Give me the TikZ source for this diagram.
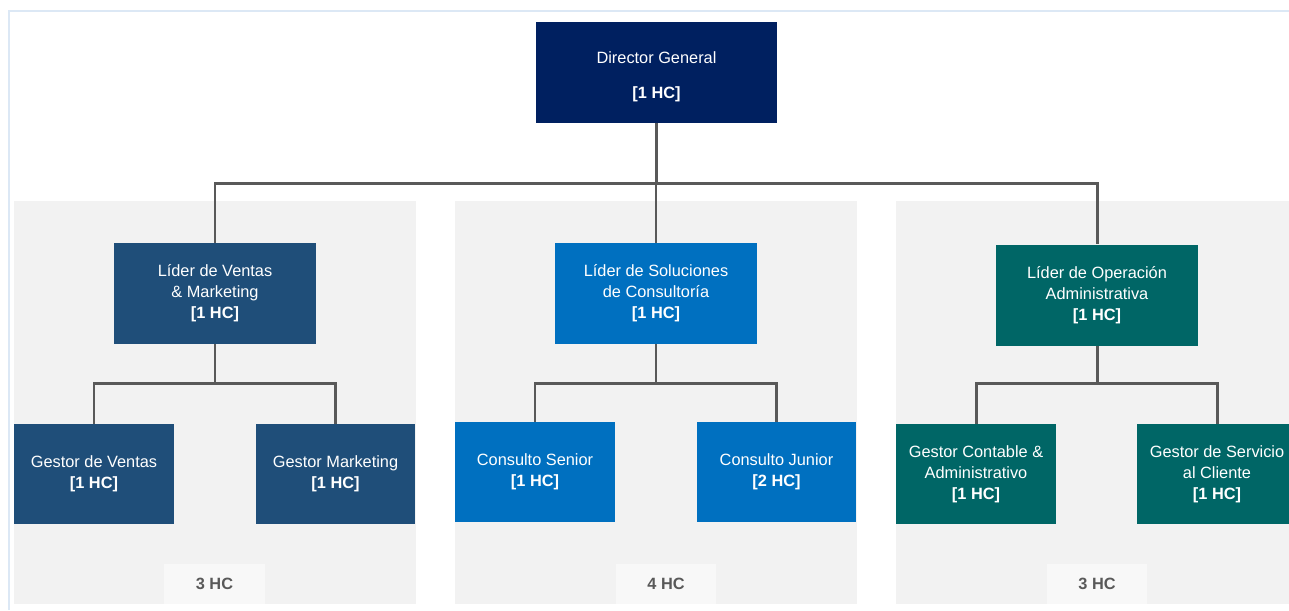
\documentclass[tikz,border=0pt]{standalone}
\usepackage{fontspec}
\setmainfont{Liberation Sans}
\usepackage{xcolor}
\definecolor{navy}{RGB}{0,32,96}
\definecolor{steelblue}{RGB}{31,78,121}
\definecolor{brightblue}{RGB}{0,112,192}
\definecolor{teal}{RGB}{0,102,102}
\definecolor{panelgray}{RGB}{242,242,242}
\definecolor{totalgray}{RGB}{248,248,248}
\definecolor{linegray}{RGB}{89,89,89}
\definecolor{frameblue}{RGB}{220,232,245}
\usepackage{tikz}
\usetikzlibrary{calc}
\newcommand{\widthtop}{4.82cm}
\newcommand{\widthlead}{4.04cm}
\newcommand{\widthkid}{3.2cm}
\tikzset{
    common/.style={rectangle, text=white, align=center, inner sep=0pt,
        font=\fontsize{9.3}{11.9}\selectfont},
    topbox/.style={common, fill=navy, minimum width=\widthtop, minimum height=2.02cm},
    lead/.style={common, minimum width=\widthlead, minimum height=2.02cm},
    kid/.style={common, minimum width=\widthkid, minimum height=2cm},
    total/.style={rectangle, fill=totalgray, text=linegray, minimum width=2.02cm,
        minimum height=0.8cm, font=\fontsize{9.3}{11.9}\selectfont\bfseries},
    panel/.style={fill=panelgray},
    wire/.style={draw=linegray, line width=1.7pt}
}
\newcommand{\hc}[1]{\textbf{[#1 HC]}}

\begin{document}
\begin{tikzpicture}[x=0.02cm, y=-0.02cm]
    \useasboundingbox (0,0) rectangle (1289,610);
    \clip (0,0) rectangle (1289,610);

    \draw[frameblue, line width=1.2pt] (9,610) -- (9,11) -- (1300,11);

    \fill[panel] (14,201) rectangle (416,604);
    \fill[panel] (455,201) rectangle (857,604);
    \fill[panel] (896,201) rectangle (1300,604);

    \node[topbox] (dir) at (656.5,72.5) {\rule{0pt}{3pt}\\[-3pt]Director General\\[8pt]\hc{1}};

    \node[lead, fill=steelblue] (ventas) at (215,293.5) {Líder de Ventas\\\& Marketing\\\hc{1}};
    \node[lead, fill=brightblue] (soluc) at (656,293.5) {Líder de Soluciones\\de Consultoría\\\hc{1}};
    \node[lead, fill=teal] (opera) at (1097,295) {Líder de Operación\\Administrativa\\\hc{1}};

    \node[kid, fill=steelblue] (gventas) at (94,474) {Gestor de Ventas\\\hc{1}};
    \node[kid, fill=steelblue] (gmarket) at (335.5,474) {Gestor Marketing\\\hc{1}};
    \node[kid, fill=brightblue] (csenior) at (535,472) {Consulto Senior\\\hc{1}};
    \node[kid, fill=brightblue] (cjunior) at (776.5,472) {Consulto Junior\\\hc{2}};
    \node[kid, fill=teal] (gcont) at (976,474) {Gestor Contable \&\\Administrativo\\\hc{1}};
    \node[kid, fill=teal] (gserv) at (1217,474) {Gestor de Servicio\\al Cliente\\\hc{1}};

    \node[total] (tventas) at (214.5,584) {3 HC};
    \node[total] (tsoluc) at (666,584) {4 HC};
    \node[total] (topera) at (1097,584) {3 HC};

    \coordinate (bus) at (656.5,183);
    \coordinate (busventas) at (215,383);
    \coordinate (bussoluc) at (656,383);
    \coordinate (busopera) at (1097,383);

    \draw[wire] (dir.south) -- (bus) -| (ventas.north);
    \draw[wire] (bus) -| (soluc.north);
    \draw[wire] (bus) -| (opera.north);

    \draw[wire] (ventas.south) -- (busventas) -| (gventas.north);
    \draw[wire] (busventas) -| (gmarket.north);
    \draw[wire] (soluc.south) -- (bussoluc) -| (csenior.north);
    \draw[wire] (bussoluc) -| (cjunior.north);
    \draw[wire] (opera.south) -- (busopera) -| (gcont.north);
    \draw[wire] (busopera) -| (gserv.north);
\end{tikzpicture}
\end{document}
